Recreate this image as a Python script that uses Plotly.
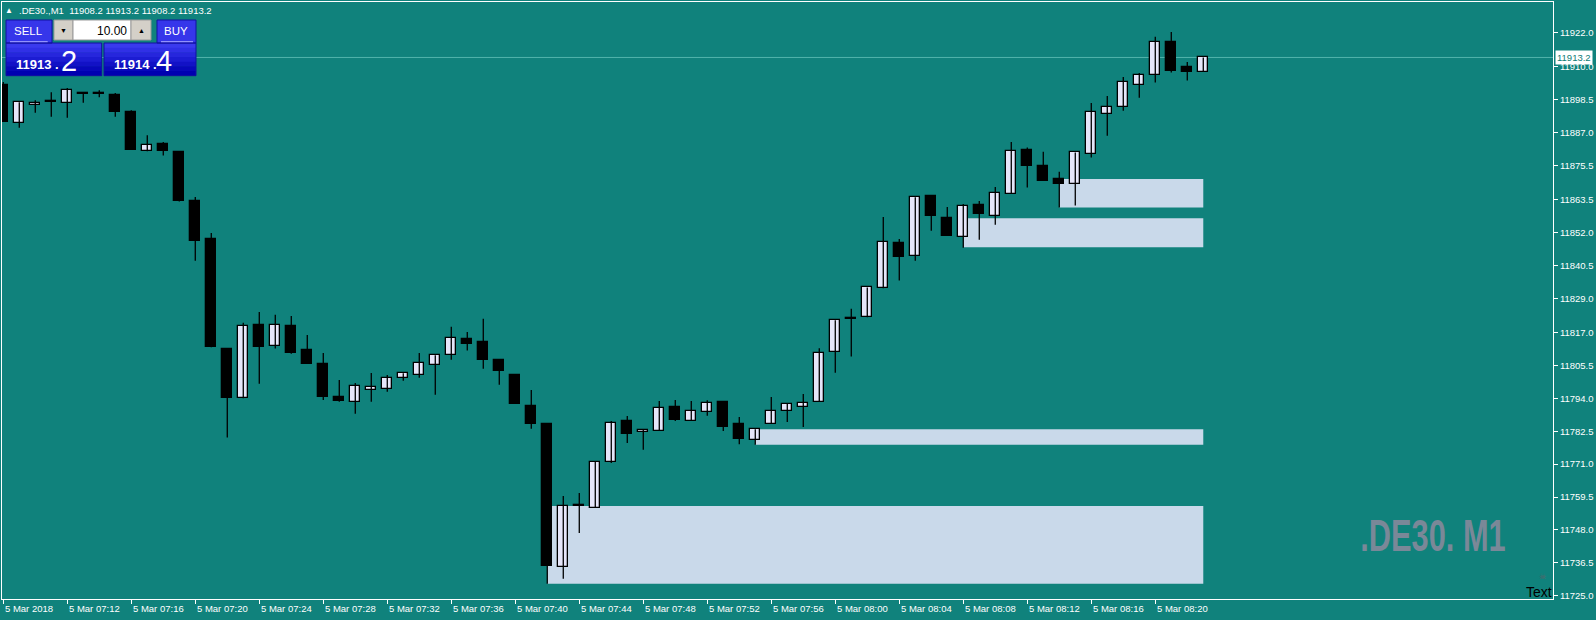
import plotly.graph_objects as go
import pandas as pd

# ---------------- data ----------------
times = pd.date_range("2018-03-05 07:08", periods=76, freq="min")

opens = [11903.6, 11890.2, 11896.7, 11897.6, 11897.4, 11900.4, 11900.3, 11900.1, 11894.1, 11880.4,
         11882.9, 11880.2, 11863.0, 11849.7, 11811.3, 11794.0, 11819.7, 11812.2, 11819.3, 11810.9,
         11806.0, 11794.5, 11792.8, 11797.0, 11797.4, 11801.2, 11802.3, 11805.8, 11809.3, 11814.7,
         11813.7, 11807.4, 11802.2, 11791.3, 11785.0, 11735.2, 11756.3, 11755.8, 11771.9, 11786.1,
         11782.4, 11782.7, 11791.0, 11786.2, 11789.3, 11792.7, 11785.0, 11779.6, 11785.2, 11789.7,
         11791.1, 11792.8, 11810.1, 11821.8, 11822.4, 11832.5, 11848.2, 11843.7, 11864.8, 11857.0,
         11850.3, 11861.5, 11857.9, 11865.6, 11880.8, 11875.3, 11870.7, 11869.1, 11879.6, 11893.5,
         11896.0, 11903.7, 11907.2, 11918.6, 11909.9, 11908.2]
highs = [11904.6, 11897.5, 11898.2, 11901.0, 11902.5, 11901.1, 11901.7, 11900.8, 11894.7, 11886.0,
         11883.6, 11880.5, 11864.4, 11851.8, 11811.3, 11820.4, 11824.2, 11823.2, 11822.8, 11816.2,
         11809.9, 11800.4, 11799.4, 11802.9, 11802.2, 11802.8, 11809.9, 11809.1, 11819.0, 11817.2,
         11821.8, 11807.4, 11802.5, 11796.9, 11785.0, 11759.9, 11760.9, 11772.1, 11786.1, 11787.8,
         11783.3, 11793.1, 11793.4, 11793.1, 11793.3, 11793.1, 11787.5, 11783.2, 11794.5, 11792.4,
         11795.5, 11811.5, 11821.3, 11825.3, 11832.8, 11857.4, 11849.7, 11864.3, 11865.1, 11860.9,
         11862.0, 11863.0, 11867.9, 11883.6, 11881.7, 11880.2, 11873.2, 11880.0, 11897.3, 11899.7,
         11906.4, 11907.8, 11920.4, 11922.1, 11911.6, 11913.2]
lows = [11890.7, 11888.6, 11893.9, 11892.5, 11892.1, 11897.4, 11899.3, 11892.5, 11881.0, 11880.4,
        11878.9, 11862.8, 11842.1, 11811.9, 11780.3, 11794.0, 11799.1, 11811.4, 11809.6, 11806.1,
        11793.4, 11792.8, 11788.6, 11792.8, 11796.3, 11800.2, 11801.2, 11795.3, 11807.5, 11810.7,
        11804.4, 11798.8, 11792.1, 11783.4, 11729.2, 11730.9, 11746.9, 11755.8, 11771.4, 11778.4,
        11776.0, 11782.7, 11786.1, 11786.2, 11787.9, 11782.6, 11778.0, 11777.8, 11785.2, 11785.7,
        11784.0, 11792.8, 11803.0, 11808.6, 11822.4, 11832.5, 11835.2, 11842.1, 11852.6, 11850.9,
        11846.7, 11849.5, 11854.7, 11865.6, 11867.7, 11870.1, 11860.7, 11861.4, 11878.2, 11885.8,
        11894.6, 11899.1, 11904.4, 11907.9, 11905.1, 11908.2]
closes = [11890.7, 11897.5, 11896.8, 11897.7, 11901.7, 11900.5, 11900.4, 11894.2, 11881.0, 11882.5,
          11880.6, 11863.1, 11849.1, 11811.9, 11794.2, 11819.3, 11811.9, 11819.6, 11809.9, 11806.1,
          11794.6, 11793.2, 11798.2, 11797.9, 11801.0, 11802.8, 11806.3, 11809.1, 11815.0, 11813.1,
          11807.5, 11803.7, 11792.1, 11785.2, 11735.5, 11756.4, 11756.4, 11771.8, 11785.4, 11781.7,
          11782.5, 11790.5, 11786.4, 11789.5, 11792.3, 11784.1, 11779.8, 11783.2, 11789.5, 11791.9,
          11792.3, 11809.8, 11821.3, 11821.9, 11832.8, 11848.6, 11843.5, 11864.3, 11857.9, 11850.9,
          11861.2, 11858.6, 11865.7, 11880.4, 11875.4, 11870.1, 11869.1, 11880.0, 11894.0, 11895.8,
          11904.5, 11907.0, 11918.5, 11908.5, 11908.1, 11913.2]

# zones (start bar, end bar, low price, high price)
zone_start = [34, 47, 60, 66]
zone_end = [75, 75, 75, 75]
zone_low = [11729.2, 11777.8, 11846.8, 11860.7]
zone_high = [11756.4, 11783.2, 11857.0, 11870.7]

price_ticks = [11922.0, 11910.0, 11898.5, 11887.0, 11875.5, 11863.5, 11852.0, 11840.5, 11829.0,
               11817.0, 11805.5, 11794.0, 11782.5, 11771.0, 11759.5, 11748.0, 11736.5, 11725.0]
time_labels = ["5 Mar 2018", "5 Mar 07:12", "5 Mar 07:16", "5 Mar 07:20", "5 Mar 07:24", "5 Mar 07:28",
               "5 Mar 07:32", "5 Mar 07:36", "5 Mar 07:40", "5 Mar 07:44", "5 Mar 07:48", "5 Mar 07:52",
               "5 Mar 07:56", "5 Mar 08:00", "5 Mar 08:04", "5 Mar 08:08", "5 Mar 08:12", "5 Mar 08:16",
               "5 Mar 08:20"]
last_price = 11913.2
bid_big, bid_small = "11913", "2"
ask_big, ask_small = "11914", "4"
lot = "10.00"
header = ".DE30.,M1  11908.2 11913.2 11908.2 11913.2"
watermark = ".DE30. M1"

# ---------------- styling ----------------
BG = "#10827C"
BULL = "#E6E6FA"
BEAR = "#000000"
ZONE = "#C9D9EA"
AXF = "Liberation Sans, Arial, sans-serif"

W, H = 1596, 620
PL, PR, PT, PB = 2, 1553, 2, 599


def px(x):
    return (x - PL) / (PR - PL)


def py(y):
    return (PB - y) / (PB - PT)


idx = list(range(len(opens)))
tick_pos = [times.get_loc(t) for t in times if t.minute % 4 == 0][:len(time_labels)]

fig = go.Figure()

# wicks
wx, wy = [], []
for i, h, l in zip(idx, highs, lows):
    wx += [i, i, None]
    wy += [l, h, None]
fig.add_trace(go.Scatter(x=wx, y=wy, mode="lines", line=dict(color="black", width=1.3),
                         hoverinfo="skip"))

# bodies
base = [min(o, c) for o, c in zip(opens, closes)]
hgt = [max(abs(c - o), 0.45) for o, c in zip(opens, closes)]
cols = [BULL if c >= o else BEAR for o, c in zip(opens, closes)]
fig.add_trace(go.Bar(x=idx, y=hgt, base=base, width=0.62,
                     marker=dict(color=cols, line=dict(color="black", width=1.3))))

shapes = []
for s, e, lo, hi in zip(zone_start, zone_end, zone_low, zone_high):
    shapes.append(dict(type="rect", xref="x", yref="y", x0=s, x1=e, y0=lo, y1=hi,
                       fillcolor=ZONE, line=dict(width=0), layer="below"))
shapes.append(dict(type="line", xref="paper", yref="y", x0=0, x1=1, y0=last_price, y1=last_price,
                   line=dict(color="#52B3AC", width=1), layer="below"))


def prect(x0, y0, x1, y1, fill, line_color=None, lw=1):
    shapes.append(dict(type="rect", xref="paper", yref="paper", x0=px(x0), x1=px(x1),
                       y0=py(y1), y1=py(y0), fillcolor=fill,
                       line=dict(color=line_color or fill, width=lw if line_color else 0),
                       layer="above"))


def pline(x0, y0, x1, y1, color, lw=1):
    shapes.append(dict(type="line", xref="paper", yref="paper", x0=px(x0), x1=px(x1),
                       y0=py(y0), y1=py(y1), line=dict(color=color, width=lw), layer="above"))


# gradient blue panels
grad = ["#3A3AEE", "#3030E6", "#2626DC", "#1C1CD2", "#1212C6", "#0808BA", "#0000B0"]


def blue_block(bx0, bx1, tx0, tx1):
    prect(tx0, 20, tx1, 43, "#3636EA")
    y0, y1 = 43, 75.7
    n = len(grad)
    for j, c in enumerate(grad):
        prect(bx0, y0 + (y1 - y0) * j / n, bx1, y0 + (y1 - y0) * (j + 1) / n + 0.3, c)
    prect(bx0, 43, bx1, 75.7, "rgba(0,0,0,0)", "#1010A0", 1)
    prect(tx0, 20, tx1, 43, "rgba(0,0,0,0)", "#1010A0", 1)


blue_block(6, 101.7, 6, 52)
blue_block(104, 196, 157, 196)
pline(10, 41.7, 47.7, 41.7, "#A8A8FF", 1)
pline(161, 41.7, 193, 41.7, "#A8A8FF", 1)
# lot box
prect(54, 20, 73, 40, "#D4D0C8", "#9A9A9A", 1)
prect(73, 20, 131, 40, "#FFFFFF", "#9A9A9A", 1)
prect(131, 20, 151, 40, "#D4D0C8", "#9A9A9A", 1)

ann = []


def ptext(x, y, text, size, color, xanchor="left", family=AXF, yanchor="middle"):
    ann.append(dict(xref="paper", yref="paper", x=px(x), y=py(y), text=text, showarrow=False,
                    xanchor=xanchor, yanchor=yanchor,
                    font=dict(size=size, color=color, family=family), borderpad=0))


# header
ptext(9, 10.5, "▲", 8, "white", xanchor="center")
ptext(18, 10.5, header, 9.5, "white")
# panel texts
ptext(28.5, 31, "SELL", 11.5, "white", xanchor="center")
ptext(175.5, 31, "BUY", 11.5, "white", xanchor="center")
ptext(63.5, 30, "▼", 7, "black", xanchor="center")
ptext(141, 30, "▲", 7, "black", xanchor="center")
ptext(127.5, 30.5, lot, 12, "black", xanchor="right")
ptext(15, 64.5, "<b>" + bid_big + " .</b>", 13, "white")
ptext(60, 60.5, bid_small, 29, "white")
ptext(113, 64.5, "<b>" + ask_big + " .</b>", 13, "white")
ptext(154.5, 60.5, ask_small, 29, "white")

# time labels
for k, lab in zip(tick_pos, time_labels):
    ann.append(dict(xref="x", yref="paper", x=k, y=py(608.5), text=lab, showarrow=False,
                    xanchor="left", yanchor="middle",
                    font=dict(size=9.5, color="white", family=AXF)))

# current price label
ann.append(dict(xref="paper", yref="y", x=px(1555), y=last_price, text=f"{last_price:.1f}",
                showarrow=False, xanchor="left", yanchor="middle", bgcolor="white", borderpad=1,
                font=dict(size=9.5, color="#0E7C76", family=AXF)))

# watermark and Text object
ptext(1432.5, 535, "<b>" + watermark + "</b>", 44, "#7A8898", xanchor="center")
ptext(1553, 592, "Text", 14, "black", xanchor="right")
ptext(1542, 576.5, "☠", 8, "#55656A", xanchor="center")

fig.update_layout(
    width=W, height=H,
    margin=dict(l=PL, r=W - PR, t=PT, b=H - PB, pad=0),
    paper_bgcolor=BG, plot_bgcolor=BG,
    showlegend=False, barmode="overlay", bargap=0,
    shapes=shapes, annotations=ann,
    xaxis=dict(range=[-0.08, -0.08 + (PR - PL) / 16], showgrid=False, zeroline=False,
               showline=True, mirror=True, linecolor="white", linewidth=1,
               ticks="outside", ticklen=4, tickcolor="white", tickwidth=1,
               tickvals=tick_pos, showticklabels=False, fixedrange=True),
    yaxis=dict(side="right", range=[11723.85, 11932.59], showgrid=False, zeroline=False,
               showline=True, mirror=True, linecolor="white", linewidth=1,
               ticks="outside", ticklen=4, tickcolor="white", tickwidth=1,
               tickvals=price_ticks, ticktext=[f"{v:.1f}" for v in price_ticks],
               tickfont=dict(size=9.5, color="white", family=AXF), fixedrange=True),
)

post = """
document.body.style.margin='0';document.body.style.overflow='hidden';
function squeeze(){
  document.querySelectorAll('text.annotation-text').forEach(function(t){
    if(t.textContent.trim()==='.DE30. M1'){
      t.style.transformBox='fill-box'; t.style.transformOrigin='center';
      t.style.transform='scaleX(0.70)';
    }
  });
}
squeeze(); setTimeout(squeeze, 50);
"""
fig.write_html("out.html", config={"displayModeBar": False}, post_script=post)
